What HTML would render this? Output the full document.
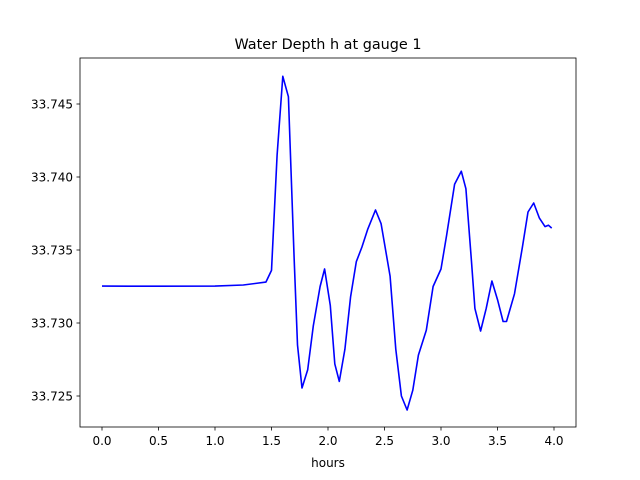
<!DOCTYPE html>
<html><head><meta charset="utf-8">
<style>
html,body{margin:0;padding:0;background:#fff;}
svg{display:block;font-family:"DejaVu Sans","Liberation Sans",sans-serif;}
</style></head>
<body>
<svg id="chart" width="640" height="480" viewBox="0 0 640 480">
<rect width="640" height="480" fill="#fff"/>
<text x="328" y="49" font-size="14.4" text-anchor="middle" fill="#000">Water Depth h at gauge 1</text>
<g id="ticks"></g>
<polyline id="line" fill="none" stroke="#0000ff" stroke-width="1.6" stroke-linejoin="round"/>
<rect x="80" y="58" width="496" height="369" fill="none" stroke="#000" stroke-width="0.8"/>
<text x="328" y="467" font-size="12" text-anchor="middle" fill="#000">hours</text>
</svg>
<script>
const times = [0,0.5,1.0,1.25,1.45,1.5,1.55,1.6,1.65,1.7,1.73,1.77,1.82,1.87,1.93,1.97,2.02,2.06,2.1,2.15,2.2,2.25,2.3,2.35,2.42,2.47,2.55,2.6,2.65,2.7,2.75,2.8,2.87,2.93,3.0,3.05,3.12,3.18,3.22,3.27,3.3,3.35,3.4,3.45,3.5,3.55,3.58,3.65,3.72,3.77,3.82,3.87,3.92,3.95,3.98];
const depths = [33.73253,33.73252,33.73253,33.7326,33.7328,33.7336,33.7415,33.7469,33.7455,33.7345,33.7285,33.72555,33.7268,33.7298,33.7325,33.7337,33.7312,33.7272,33.7260,33.7282,33.7318,33.7342,33.7352,33.7364,33.73774,33.7368,33.7332,33.7282,33.7250,33.72404,33.7254,33.7278,33.7295,33.7325,33.7337,33.7360,33.7395,33.7404,33.7392,33.7342,33.7310,33.72945,33.7310,33.73288,33.7316,33.7301,33.7301,33.7320,33.7352,33.7376,33.73822,33.7372,33.7366,33.7367,33.7365];
const xTicks = [0,0.5,1.0,1.5,2.0,2.5,3.0,3.5,4.0];
const xTickLabels = ["0.0","0.5","1.0","1.5","2.0","2.5","3.0","3.5","4.0"];
const yTicks = [33.725,33.730,33.735,33.740,33.745];
const yTickLabels = ["33.725","33.730","33.735","33.740","33.745"];

const xScale = t => 102 + (t - 0) * (554 - 102) / 4;
const yScale = v => 396 - (v - 33.725) * (396 - 104) / 0.02;
const NS = "http://www.w3.org/2000/svg";
const g = document.getElementById("ticks");

xTicks.forEach((t, i) => {
  const x = xScale(t);
  const l = document.createElementNS(NS, "line");
  
  
  l.setAttribute("x1", x); l.setAttribute("x2", x);
  l.setAttribute("y1", 427); l.setAttribute("y2", 430.5);
  l.setAttribute("stroke", "#000"); l.setAttribute("stroke-width", "0.8");
  g.appendChild(l);
  const tx = document.createElementNS(NS, "text");
  
  
  tx.setAttribute("x", x); tx.setAttribute("y", 445);
  tx.setAttribute("font-size", "12"); tx.setAttribute("text-anchor", "middle");
  tx.textContent = xTickLabels[i];
  g.appendChild(tx);
});
yTicks.forEach((v, i) => {
  const y = yScale(v);
  const l = document.createElementNS(NS, "line");
  
  
  l.setAttribute("x1", 76.5); l.setAttribute("x2", 80);
  l.setAttribute("y1", y); l.setAttribute("y2", y);
  l.setAttribute("stroke", "#000"); l.setAttribute("stroke-width", "0.8");
  g.appendChild(l);
  const tx = document.createElementNS(NS, "text");
  
  
  tx.setAttribute("x", 73); tx.setAttribute("y", y + 4.5);
  tx.setAttribute("font-size", "12"); tx.setAttribute("text-anchor", "end");
  tx.textContent = yTickLabels[i];
  g.appendChild(tx);
});
document.getElementById("line").setAttribute("points",
  times.map((t, i) => xScale(t).toFixed(1) + "," + yScale(depths[i]).toFixed(1)).join(" "));
</script>
</body></html>
